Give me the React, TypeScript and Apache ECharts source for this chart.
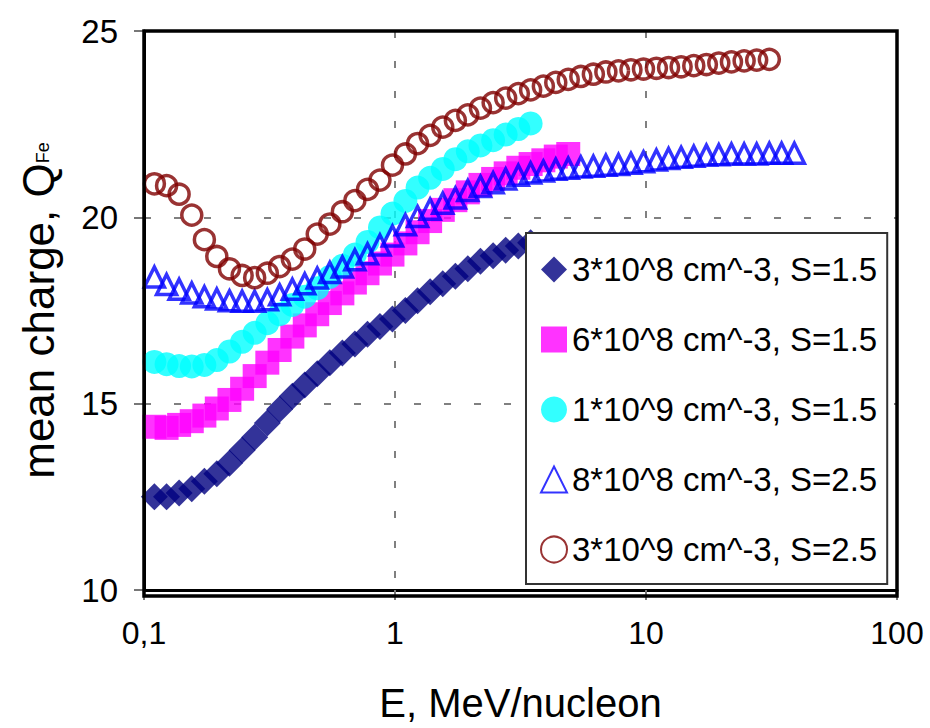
import React, { useEffect, useRef } from 'react';
import * as echarts from 'echarts';

// Energy grid, MeV/nucleon
const energy = [
  0.110, 0.123, 0.138, 0.155, 0.174, 0.195, 0.219, 0.246, 0.276, 0.310,
  0.347, 0.390, 0.437, 0.490, 0.550, 0.617, 0.692, 0.777, 0.871, 0.977,
  1.10, 1.23, 1.38, 1.55, 1.74, 1.95, 2.19, 2.46, 2.76, 3.10,
  3.47, 3.90, 4.37, 4.90, 5.50, 6.17, 6.92, 7.77, 8.71, 9.77,
  11.0, 12.3, 13.8, 15.5, 17.4, 19.5, 21.9, 24.6, 27.6, 31.0,
  34.7, 39.0,
];

const q3e8s15 = [
  12.5, 12.5, 12.6, 12.72, 12.92, 13.12, 13.4, 13.75, 14.1, 14.48,
  14.85, 15.2, 15.5, 15.8, 16.1, 16.36, 16.6, 16.86, 17.07, 17.27,
  17.5, 17.76, 18.0, 18.22, 18.42, 18.62, 18.82, 18.97, 19.12, 19.23,
  19.32,
];

const q6e8s15 = [
  14.38, 14.35, 14.43, 14.53, 14.68, 14.87, 15.1, 15.4, 15.74, 16.1,
  16.44, 16.8, 17.1, 17.4, 17.7, 17.96, 18.25, 18.5, 18.76, 19.0,
  19.3, 19.6, 19.9, 20.2, 20.46, 20.67, 20.87, 21.03, 21.18, 21.33,
  21.43, 21.53, 21.63, 21.7,
];

const q1e9s15 = [
  16.12, 16.06, 16.01, 16.0, 16.04, 16.17, 16.4, 16.66, 16.9, 17.16,
  17.4, 17.65, 17.87, 18.1, 18.4, 18.7, 19.0, 19.34, 19.73, 20.1,
  20.44, 20.8, 21.06, 21.3, 21.56, 21.77, 21.93, 22.07, 22.22, 22.37,
  22.52,
];

const q8e8s25 = [
  18.4, 18.2, 18.07, 17.97, 17.87, 17.81, 17.76, 17.75, 17.75, 17.79,
  17.92, 18.07, 18.22, 18.37, 18.52, 18.67, 18.86, 19.02, 19.26, 19.5,
  19.8, 20.02, 20.22, 20.38, 20.52, 20.72, 20.83, 20.93, 21.03, 21.13,
  21.19, 21.24, 21.29, 21.32, 21.35, 21.37, 21.4, 21.42, 21.45, 21.49,
  21.54, 21.58, 21.61, 21.64, 21.67, 21.68, 21.7, 21.7, 21.7, 21.72,
  21.72, 21.72,
];

const q3e9s25 = [
  20.9, 20.85, 20.62, 20.06, 19.4, 18.95, 18.62, 18.44, 18.38, 18.5,
  18.68, 18.88, 19.15, 19.55, 19.82, 20.15, 20.45, 20.75, 21.0, 21.4,
  21.7, 21.98, 22.2, 22.42, 22.6, 22.75, 22.93, 23.08, 23.2, 23.32,
  23.42, 23.52, 23.62, 23.7, 23.78, 23.84, 23.9, 23.93, 23.96, 23.98,
  24.0, 24.02, 24.04, 24.07, 24.1, 24.14, 24.17, 24.2, 24.22, 24.24,
];

const seriesNames = [
  '3*10^8 cm^-3, S=1.5',
  '6*10^8 cm^-3, S=1.5',
  '1*10^9 cm^-3, S=1.5',
  '8*10^8 cm^-3, S=2.5',
  '3*10^9 cm^-3, S=2.5',
];

const yTicks = [10, 15, 20, 25];
const xTickLabels: Record<string, string> = { '0.1': '0,1', '1': '1', '10': '10', '100': '100' };

const FONT = 'Arial, "Liberation Sans", Helvetica, sans-serif';

function pairs(vals: number[]) {
  return vals.map((v, i) => [energy[i], v]);
}

export default function App() {
  const ref = useRef<HTMLDivElement>(null);
  useEffect(() => {
    if (!ref.current) return;
    const chart = echarts.init(ref.current, null, { renderer: 'svg' });
    const gridLeft = 144, gridTop = 31, gridWidth = 753, gridHeight = 565;
    const option: any = {
      animation: false,
      backgroundColor: '#fff',
      textStyle: { fontFamily: FONT },
      grid: { left: gridLeft, top: gridTop, width: gridWidth, height: gridHeight, show: false },
      xAxis: {
        type: 'log',
        logBase: 10,
        min: 0.1,
        max: 100,
        name: 'E, MeV/nucleon',
        nameLocation: 'middle',
        nameGap: 93,
        nameTextStyle: { fontSize: 40, color: '#000', fontFamily: FONT },
        axisLine: { show: true, lineStyle: { color: '#000', width: 3 } },
        axisTick: { show: true, length: 10, lineStyle: { color: '#777', width: 2 } },
        axisLabel: {
          fontSize: 32,
          color: '#000',
          fontFamily: FONT,
          margin: 27,
          formatter: (v: number) => {
            const key = String(Math.round(v * 1000) / 1000);
            return xTickLabels[key] ?? key;
          },
        },
        splitLine: { show: true, lineStyle: { color: '#808080', width: 2, type: [7, 23] } },
        minorTick: { show: false },
      },
      yAxis: {
        type: 'value',
        min: yTicks[0],
        max: yTicks[yTicks.length - 1],
        interval: 5,
        name: '{a|mean charge, Q}{b|Fe}',
        nameLocation: 'middle',
        nameGap: 84,
        nameTextStyle: {
          color: '#000',
          fontFamily: FONT,
          rich: {
            a: { fontSize: 44, fontFamily: FONT, color: '#000' },
            b: { fontSize: 18, fontFamily: FONT, color: '#000', verticalAlign: 'bottom', padding: [0, 0, 8, 0] },
          },
        },
        axisLine: { show: true, lineStyle: { color: '#000', width: 3 } },
        axisTick: { show: true, length: 10, lineStyle: { color: '#777', width: 2 } },
        axisLabel: { fontSize: 33, color: '#000', fontFamily: FONT, margin: 26 },
        splitLine: { show: true, lineStyle: { color: '#808080', width: 2, type: [7, 23] } },
      },
      legend: {
        orient: 'vertical',
        left: 526,
        top: 233,
        padding: [20, 10, 18, 14],
        itemGap: 37,
        itemWidth: 26,
        itemHeight: 26,
        backgroundColor: '#fff',
        borderColor: '#333',
        borderWidth: 2,
        borderRadius: 0,
        textStyle: { fontSize: 33, lineHeight: 33, color: '#000', fontFamily: FONT },
        data: seriesNames,
      },
      graphic: [
        {
          type: 'rect',
          z: 10,
          silent: true,
          shape: { x: gridLeft, y: gridTop, width: gridWidth, height: gridHeight },
          style: { fill: 'none', stroke: '#000', lineWidth: 3.5 },
        },
      ],
      series: [
        {
          name: seriesNames[0],
          type: 'scatter',
          symbol: 'diamond',
          symbolSize: 27,
          itemStyle: { color: '#000080' },
          data: pairs(q3e8s15),
        },
        {
          name: seriesNames[1],
          type: 'scatter',
          symbol: 'rect',
          symbolSize: 24,
          itemStyle: { color: '#FF00FF' },
          data: pairs(q6e8s15),
        },
        {
          name: seriesNames[2],
          type: 'scatter',
          symbol: 'circle',
          symbolSize: 24,
          itemStyle: { color: '#00FFFF' },
          data: pairs(q1e9s15),
        },
        {
          name: seriesNames[3],
          type: 'scatter',
          symbol: 'triangle',
          symbolSize: 20,
          itemStyle: { color: 'rgba(255,255,255,0)', borderColor: '#0000FF', borderWidth: 3.5 },
          data: pairs(q8e8s25),
        },
        {
          name: seriesNames[4],
          type: 'scatter',
          symbol: 'circle',
          symbolSize: 20,
          itemStyle: { color: 'rgba(255,255,255,0)', borderColor: '#800000', borderWidth: 3.5 },
          data: pairs(q3e9s25),
        },
      ],
    };
    chart.setOption(option);
    return () => chart.dispose();
  }, []);
  return (
    <div
      ref={ref}
      style={{ position: 'fixed', left: 0, top: 0, width: 930, height: 728, background: '#fff' }}
    />
  );
}
